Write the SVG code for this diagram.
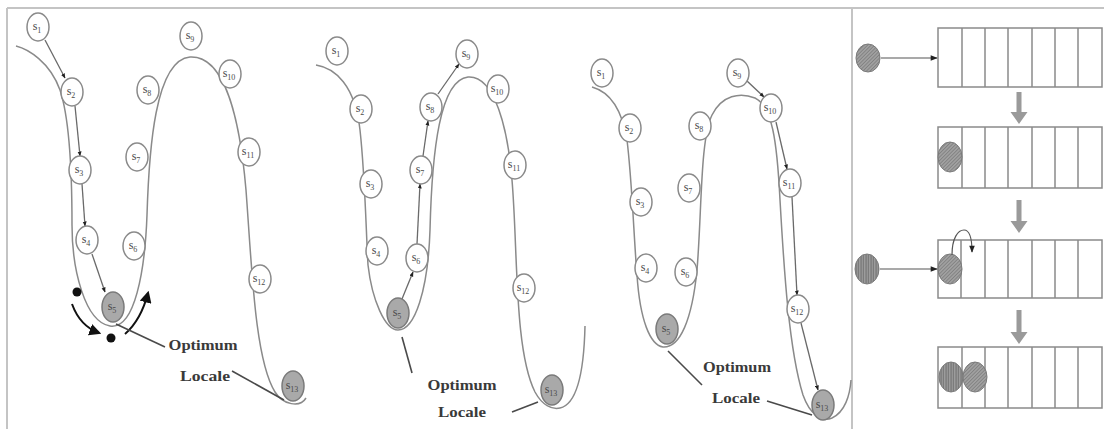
<svg xmlns="http://www.w3.org/2000/svg" width="1104" height="429" viewBox="0 0 1104 429">
  <style>
    .frame { stroke: #c4c4c4; stroke-width: 2; fill: none; }
    .curve { stroke: #8a8a8a; stroke-width: 1.5; fill: none; }
    .node ellipse { fill: #ffffff; stroke: #8a8a8a; stroke-width: 1.5; }
    .node.best ellipse { fill: #a9a9a9; stroke: #7a7a7a; }
    .node text { font-family: "Liberation Serif", "DejaVu Serif", serif; font-size: 12px; fill: #4a4a4a; text-anchor: middle; }
    .node text tspan.sub { font-size: 8px; }
    .step { stroke: #6a6a6a; stroke-width: 1.3; fill: none; marker-end: url(#stepHead); }
    .move { stroke: #111; stroke-width: 2; fill: none; marker-end: url(#moveHead); }
    .pointer { stroke: #4a4a4a; stroke-width: 1.6; fill: none; }
    .label { font-family: "Liberation Serif", "DejaVu Serif", serif; font-weight: bold; font-size: 14px; fill: #3a3a3a; text-anchor: middle; }
    .queue rect { fill: #ffffff; stroke: #8a8a8a; stroke-width: 1.5; }
    .queue line { stroke: #8a8a8a; stroke-width: 1.5; }
    .push { stroke: #555; stroke-width: 1.2; fill: none; marker-end: url(#pushHead); }
    .flow { fill: #9a9a9a; }
    .diag { fill: url(#diagHatch); stroke: #7a7a7a; stroke-width: 1; }
    .vert { fill: url(#vertHatch); stroke: #7a7a7a; stroke-width: 1; }
  </style>
  <defs>
    <marker id="stepHead" viewBox="0 0 10 10" refX="9" refY="5" markerWidth="5" markerHeight="5" orient="auto" markerUnits="userSpaceOnUse">
      <path d="M0,1 L10,5 L0,9 Z" fill="#222"/>
    </marker>
    <marker id="moveHead" viewBox="0 0 10 10" refX="8" refY="5" markerWidth="12" markerHeight="12" orient="auto" markerUnits="userSpaceOnUse">
      <path d="M0,0 L10,5 L0,10 Z" fill="#111"/>
    </marker>
    <marker id="pushHead" viewBox="0 0 10 10" refX="9" refY="5" markerWidth="8" markerHeight="7" orient="auto" markerUnits="userSpaceOnUse">
      <path d="M0,1 L10,5 L0,9 Z" fill="#222"/>
    </marker>
    <pattern id="diagHatch" width="2.5" height="2.5" patternUnits="userSpaceOnUse" patternTransform="rotate(45)">
      <rect width="2.5" height="2.5" fill="#a0a0a0"/>
      <line x1="0" y1="0" x2="0" y2="2.5" stroke="#6a6a6a" stroke-width="1"/>
    </pattern>
    <pattern id="vertHatch" width="2.5" height="2.5" patternUnits="userSpaceOnUse">
      <rect width="2.5" height="2.5" fill="#a0a0a0"/>
      <line x1="1" y1="0" x2="1" y2="2.5" stroke="#6a6a6a" stroke-width="1"/>
    </pattern>
  </defs>

  <rect width="1104" height="429" fill="#ffffff"/>

  <!-- outer frame and panel divider -->
  <g id="frame">
    <line class="frame" x1="7" y1="8" x2="1104" y2="8"/>
    <line class="frame" x1="7" y1="8" x2="7" y2="429"/>
    <line class="frame" x1="852" y1="8" x2="852" y2="429"/>
  </g>

  <!-- landscape curves -->
  <g id="landscapes">
    <path class="curve" d="M16,46 C28,49 50,62 60,90 C70,120 72,180 72,225 C72,270 85,322 110,326 C135,330 145,270 147,215 C149,150 155,60 190,57 C225,55 240,120 246,190 C252,270 255,360 275,392 C283,405 300,408 306,398"/>
    <path class="curve" d="M316,65 C335,68 355,85 360,130 C365,175 366,230 368,265 C372,300 385,330 398,330 C415,330 428,290 430,230 C432,150 440,80 468,77 C495,75 508,130 512,180 C518,250 514,350 535,392 C542,405 552,410 560,408 C578,404 584,370 585,326"/>
    <path class="curve" d="M592,87 C610,92 622,110 627,140 C632,180 634,240 637,275 C640,320 650,345 663,347 C680,348 692,320 697,270 C702,210 700,140 712,115 C722,95 740,92 755,98 C772,106 777,140 780,200 C784,270 789,350 803,395 C810,415 822,422 832,418 C845,412 850,395 851,380"/>
  </g>

  <!-- search steps and pointers -->
  <g id="connectors">
    <line class="step" x1="45" y1="40" x2="65" y2="78"/>
    <line class="step" x1="75" y1="106" x2="80" y2="156"/>
    <line class="step" x1="82" y1="184" x2="85" y2="226"/>
    <line class="step" x1="92" y1="254" x2="105" y2="292"/>

    <line class="step" x1="402" y1="299" x2="413" y2="272"/>
    <line class="step" x1="417" y1="244" x2="420" y2="184"/>
    <line class="step" x1="423" y1="156" x2="428" y2="121"/>
    <line class="step" x1="438" y1="94" x2="459" y2="64"/>

    <line class="step" x1="747" y1="81" x2="764" y2="97"/>
    <line class="step" x1="776" y1="122" x2="787" y2="169"/>
    <line class="step" x1="792" y1="197" x2="797" y2="295"/>
    <line class="step" x1="801" y1="323" x2="818" y2="390"/>

    <circle cx="77" cy="292" r="4.5" fill="#111"/>
    <path class="move" d="M72,304 Q80,326 99,333"/>
    <circle cx="111" cy="338" r="4.5" fill="#111"/>
    <path class="move" d="M125,334 Q141,320 148,293"/>

    <line class="pointer" x1="116" y1="324" x2="165" y2="347"/>
    <line class="pointer" x1="232" y1="371" x2="284" y2="400"/>
    <line class="pointer" x1="402" y1="337" x2="412" y2="373"/>
    <line class="pointer" x1="512" y1="412" x2="538" y2="402"/>
    <line class="pointer" x1="668" y1="351" x2="702" y2="385"/>
    <line class="pointer" x1="767" y1="401" x2="812" y2="415"/>
  </g>

  <!-- panel 1 states -->
  <g id="p1-s1" class="node"><ellipse cx="38" cy="27" rx="11" ry="14"/><text x="37" y="30">s<tspan class="sub" dy="3">1</tspan></text></g>
  <g id="p1-s2" class="node"><ellipse cx="72" cy="92" rx="11" ry="14"/><text x="71" y="95">s<tspan class="sub" dy="3">2</tspan></text></g>
  <g id="p1-s3" class="node"><ellipse cx="80" cy="170" rx="11" ry="14"/><text x="79" y="173">s<tspan class="sub" dy="3">3</tspan></text></g>
  <g id="p1-s4" class="node"><ellipse cx="87" cy="240" rx="11" ry="14"/><text x="86" y="243">s<tspan class="sub" dy="3">4</tspan></text></g>
  <g id="p1-s5" class="node best"><ellipse cx="113" cy="307" rx="11" ry="15"/><text x="112" y="310">s<tspan class="sub" dy="3">5</tspan></text></g>
  <g id="p1-s6" class="node"><ellipse cx="134" cy="246" rx="11" ry="14"/><text x="133" y="249">s<tspan class="sub" dy="3">6</tspan></text></g>
  <g id="p1-s7" class="node"><ellipse cx="137" cy="157" rx="11" ry="14"/><text x="136" y="160">s<tspan class="sub" dy="3">7</tspan></text></g>
  <g id="p1-s8" class="node"><ellipse cx="148" cy="90" rx="11" ry="14"/><text x="147" y="93">s<tspan class="sub" dy="3">8</tspan></text></g>
  <g id="p1-s9" class="node"><ellipse cx="191" cy="36" rx="11" ry="14"/><text x="190" y="39">s<tspan class="sub" dy="3">9</tspan></text></g>
  <g id="p1-s10" class="node"><ellipse cx="230" cy="74" rx="11" ry="14"/><text x="229" y="77">s<tspan class="sub" dy="3">10</tspan></text></g>
  <g id="p1-s11" class="node"><ellipse cx="249" cy="152" rx="11" ry="14"/><text x="248" y="155">s<tspan class="sub" dy="3">11</tspan></text></g>
  <g id="p1-s12" class="node"><ellipse cx="260" cy="279" rx="11" ry="14"/><text x="259" y="282">s<tspan class="sub" dy="3">12</tspan></text></g>
  <g id="p1-s13" class="node best"><ellipse cx="293" cy="386" rx="11" ry="15"/><text x="292" y="389">s<tspan class="sub" dy="3">13</tspan></text></g>
  <g id="p1-label"><text class="label" x="203" y="350" textLength="69" lengthAdjust="spacingAndGlyphs">Optimum</text><text class="label" x="205" y="381" textLength="50" lengthAdjust="spacingAndGlyphs">Locale</text></g>

  <!-- panel 2 states -->
  <g id="p2-s1" class="node"><ellipse cx="337" cy="51" rx="11" ry="14"/><text x="336" y="54">s<tspan class="sub" dy="3">1</tspan></text></g>
  <g id="p2-s2" class="node"><ellipse cx="361" cy="109" rx="11" ry="14"/><text x="360" y="112">s<tspan class="sub" dy="3">2</tspan></text></g>
  <g id="p2-s3" class="node"><ellipse cx="371" cy="184" rx="11" ry="14"/><text x="370" y="187">s<tspan class="sub" dy="3">3</tspan></text></g>
  <g id="p2-s4" class="node"><ellipse cx="377" cy="251" rx="11" ry="14"/><text x="376" y="254">s<tspan class="sub" dy="3">4</tspan></text></g>
  <g id="p2-s5" class="node best"><ellipse cx="398" cy="313" rx="11" ry="15"/><text x="397" y="316">s<tspan class="sub" dy="3">5</tspan></text></g>
  <g id="p2-s6" class="node"><ellipse cx="417" cy="258" rx="11" ry="14"/><text x="416" y="261">s<tspan class="sub" dy="3">6</tspan></text></g>
  <g id="p2-s7" class="node"><ellipse cx="421" cy="170" rx="11" ry="14"/><text x="420" y="173">s<tspan class="sub" dy="3">7</tspan></text></g>
  <g id="p2-s8" class="node"><ellipse cx="431" cy="107" rx="11" ry="14"/><text x="430" y="110">s<tspan class="sub" dy="3">8</tspan></text></g>
  <g id="p2-s9" class="node"><ellipse cx="467" cy="54" rx="11" ry="14"/><text x="466" y="57">s<tspan class="sub" dy="3">9</tspan></text></g>
  <g id="p2-s10" class="node"><ellipse cx="498" cy="89" rx="11" ry="14"/><text x="497" y="92">s<tspan class="sub" dy="3">10</tspan></text></g>
  <g id="p2-s11" class="node"><ellipse cx="515" cy="165" rx="11" ry="14"/><text x="514" y="168">s<tspan class="sub" dy="3">11</tspan></text></g>
  <g id="p2-s12" class="node"><ellipse cx="524" cy="288" rx="11" ry="14"/><text x="523" y="291">s<tspan class="sub" dy="3">12</tspan></text></g>
  <g id="p2-s13" class="node best"><ellipse cx="552" cy="390" rx="11" ry="15"/><text x="551" y="393">s<tspan class="sub" dy="3">13</tspan></text></g>
  <g id="p2-label"><text class="label" x="462" y="390" textLength="69" lengthAdjust="spacingAndGlyphs">Optimum</text><text class="label" x="462" y="417" textLength="48" lengthAdjust="spacingAndGlyphs">Locale</text></g>

  <!-- panel 3 states -->
  <g id="p3-s1" class="node"><ellipse cx="602" cy="73" rx="11" ry="14"/><text x="601" y="76">s<tspan class="sub" dy="3">1</tspan></text></g>
  <g id="p3-s2" class="node"><ellipse cx="630" cy="128" rx="11" ry="14"/><text x="629" y="131">s<tspan class="sub" dy="3">2</tspan></text></g>
  <g id="p3-s3" class="node"><ellipse cx="641" cy="202" rx="11" ry="14"/><text x="640" y="205">s<tspan class="sub" dy="3">3</tspan></text></g>
  <g id="p3-s4" class="node"><ellipse cx="646" cy="268" rx="11" ry="14"/><text x="645" y="271">s<tspan class="sub" dy="3">4</tspan></text></g>
  <g id="p3-s5" class="node best"><ellipse cx="667" cy="329" rx="11" ry="15"/><text x="666" y="332">s<tspan class="sub" dy="3">5</tspan></text></g>
  <g id="p3-s6" class="node"><ellipse cx="686" cy="272" rx="11" ry="14"/><text x="685" y="275">s<tspan class="sub" dy="3">6</tspan></text></g>
  <g id="p3-s7" class="node"><ellipse cx="689" cy="188" rx="11" ry="14"/><text x="688" y="191">s<tspan class="sub" dy="3">7</tspan></text></g>
  <g id="p3-s8" class="node"><ellipse cx="700" cy="126" rx="11" ry="14"/><text x="699" y="129">s<tspan class="sub" dy="3">8</tspan></text></g>
  <g id="p3-s9" class="node"><ellipse cx="738" cy="73" rx="11" ry="14"/><text x="737" y="76">s<tspan class="sub" dy="3">9</tspan></text></g>
  <g id="p3-s10" class="node"><ellipse cx="771" cy="108" rx="11" ry="14"/><text x="770" y="111">s<tspan class="sub" dy="3">10</tspan></text></g>
  <g id="p3-s11" class="node"><ellipse cx="790" cy="183" rx="11" ry="14"/><text x="789" y="186">s<tspan class="sub" dy="3">11</tspan></text></g>
  <g id="p3-s12" class="node"><ellipse cx="798" cy="309" rx="11" ry="14"/><text x="797" y="312">s<tspan class="sub" dy="3">12</tspan></text></g>
  <g id="p3-s13" class="node best"><ellipse cx="823" cy="405" rx="11" ry="15"/><text x="822" y="408">s<tspan class="sub" dy="3">13</tspan></text></g>
  <g id="p3-label"><text class="label" x="737" y="372" textLength="68" lengthAdjust="spacingAndGlyphs">Optimum</text><text class="label" x="736" y="403" textLength="48" lengthAdjust="spacingAndGlyphs">Locale</text></g>

  <!-- tabu list: seven slots, shown in four successive states -->
  <g id="queue-1" class="queue">
    <rect x="938" y="28" width="164" height="59"/>
    <line x1="962" y1="28" x2="962" y2="87"/><line x1="985" y1="28" x2="985" y2="87"/><line x1="1008" y1="28" x2="1008" y2="87"/><line x1="1032" y1="28" x2="1032" y2="87"/><line x1="1055" y1="28" x2="1055" y2="87"/><line x1="1078" y1="28" x2="1078" y2="87"/>
  </g>
  <g id="queue-2" class="queue">
    <rect x="938" y="127" width="164" height="61"/>
    <line x1="962" y1="127" x2="962" y2="188"/><line x1="985" y1="127" x2="985" y2="188"/><line x1="1008" y1="127" x2="1008" y2="188"/><line x1="1032" y1="127" x2="1032" y2="188"/><line x1="1055" y1="127" x2="1055" y2="188"/><line x1="1078" y1="127" x2="1078" y2="188"/>
  </g>
  <g id="queue-3" class="queue">
    <rect x="938" y="240" width="164" height="58"/>
    <line x1="961" y1="240" x2="961" y2="298"/><line x1="985" y1="240" x2="985" y2="298"/><line x1="1008" y1="240" x2="1008" y2="298"/><line x1="1032" y1="240" x2="1032" y2="298"/><line x1="1055" y1="240" x2="1055" y2="298"/><line x1="1078" y1="240" x2="1078" y2="298"/>
  </g>
  <g id="queue-4" class="queue">
    <rect x="938" y="347" width="164" height="61"/>
    <line x1="962" y1="347" x2="962" y2="408"/><line x1="985" y1="347" x2="985" y2="408"/><line x1="1008" y1="347" x2="1008" y2="408"/><line x1="1032" y1="347" x2="1032" y2="408"/><line x1="1055" y1="347" x2="1055" y2="408"/><line x1="1078" y1="347" x2="1078" y2="408"/>
  </g>

  <!-- moves entering the list -->
  <g id="move-a"><ellipse class="diag" cx="868" cy="58" rx="12" ry="14"/></g>
  <g id="move-a-in-2"><ellipse class="diag" cx="950" cy="157" rx="12" ry="15"/></g>
  <g id="move-b"><ellipse class="vert" cx="867" cy="269" rx="12" ry="15"/></g>
  <g id="move-a-in-3"><ellipse class="diag" cx="950" cy="269" rx="12" ry="15"/></g>
  <g id="move-b-in-4"><ellipse class="vert" cx="951" cy="377" rx="12" ry="15"/></g>
  <g id="move-a-in-4"><ellipse class="diag" cx="975" cy="377" rx="12" ry="15"/></g>

  <g id="queue-arrows">
    <line class="push" x1="881" y1="58" x2="937" y2="58"/>
    <line class="push" x1="880" y1="269" x2="937" y2="269"/>
    <path class="push" d="M952,255 C952,238 958,230 964,230 C970,230 972,240 972,252"/>
    <path class="flow" d="M1016.5,92 h5 v20 h6 l-8.5,12 l-8.5,-12 h6 Z"/>
    <path class="flow" d="M1016.5,200 h5 v21 h6 l-8.5,12 l-8.5,-12 h6 Z"/>
    <path class="flow" d="M1016.5,310 h5 v22 h6 l-8.5,12 l-8.5,-12 h6 Z"/>
  </g>
</svg>
